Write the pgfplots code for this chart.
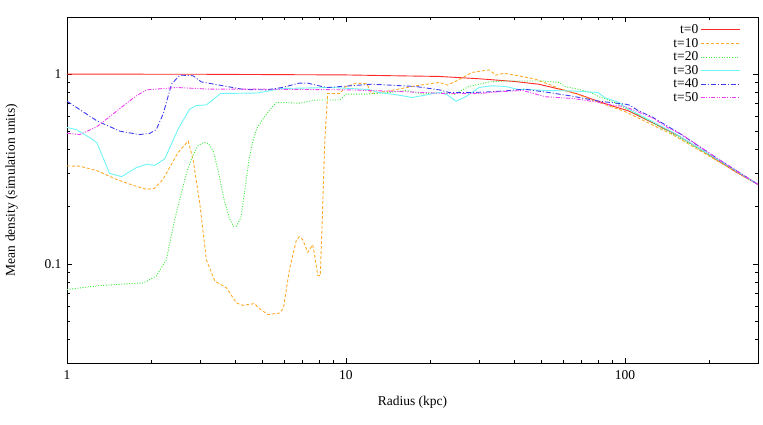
\documentclass[border=0pt]{standalone}
\usepackage{fontspec}
\setmainfont{Liberation Serif}
\usepackage{pgfplots}
\pgfplotsset{compat=1.18}

\definecolor{cR}{RGB}{255,40,40}
\definecolor{cO}{RGB}{255,170,40}
\definecolor{cG}{RGB}{60,235,60}
\definecolor{cC}{RGB}{110,245,245}
\definecolor{cB}{RGB}{60,60,240}
\definecolor{cM}{RGB}{240,60,240}

\begin{document}
\begin{tikzpicture}
\begin{axis}[
    at={(0,0)}, anchor=south west,
    scale only axis,
    width=691pt, height=346pt,
    xmode=log, ymode=log,
    xmin=1, xmax=300, ymin=0.03, ymax=2,
    xtick={1,10,100}, xticklabels={1,10,100},
    ytick={0.1,1}, yticklabels={0.1,1},
    minor xtick={2,3,4,5,6,7,8,9,20,30,40,50,60,70,80,90,200,300},
    minor ytick={0.04,0.05,0.06,0.07,0.08,0.09,0.2,0.3,0.4,0.5,0.6,0.7,0.8,0.9,2},
    tick align=inside,
    major tick length=5pt, minor tick length=3pt,
    every tick/.style={black, line width=0.6pt},
    axis line style={line width=0.8pt},
    /pgf/number format/assume math mode=true,
    font=\fontsize{13.5}{16}\selectfont,
    tick label style={font=\fontsize{13.5}{16}\selectfont},
    xticklabel style={yshift=-4pt},
    yticklabel style={xshift=-2pt},
    xlabel={Radius (kpc)},
    ylabel={Mean density (simulation units)},
    xlabel style={at={(axis description cs:0.5,-0.113)}, anchor=center},
    ylabel style={at={(axis description cs:-0.08,0.5)}, anchor=center, rotate=0},
    legend cell align=right,
    legend plot pos=right,
    legend image code/.code={\draw[#1, line width=1pt] (0pt,0pt) -- (39pt,0pt);},
    legend style={draw=none, fill=none, at={(axis description cs:0.979,0.99)},
        anchor=north east, font=\fontsize{13.5}{16}\selectfont, row sep=-0.9pt},
    every axis plot/.append style={line width=0.9pt},
]
\addplot[color=cR, solid] coordinates {
(1,1.0) (3,0.998) (10,0.99) (15,0.98) (21.6,0.972) (30,0.945) (40,0.915)
(49,0.885) (60,0.825) (68,0.784) (80,0.72) (90,0.68) (103,0.64) (120,0.573)
(140,0.512) (156,0.472) (180,0.415) (217,0.348) (250,0.305) (300,0.262)};
\addlegendentry{t=0}

\addplot[color=cO, dash pattern=on 3pt off 2pt] coordinates {
(1,0.328) (1.11,0.327) (1.28,0.31) (1.5,0.279) (1.73,0.259) (1.93,0.247)
(2.06,0.25) (2.21,0.279) (2.5,0.386) (2.72,0.444) (2.83,0.355) (2.99,0.21)
(3.16,0.105) (3.39,0.081) (3.73,0.0747) (4.05,0.0622) (4.27,0.0604)
(4.7,0.0617) (4.9,0.058) (5.25,0.054) (5.78,0.055) (5.97,0.0585) (6.27,0.093)
(6.63,0.132) (6.8,0.139) (7.0,0.134) (7.3,0.115) (7.6,0.126) (7.7,0.114)
(7.93,0.0867) (8.09,0.0867) (8.2,0.15) (8.4,0.45) (8.6,0.79) (9.5,0.79)
(10,0.86) (10.9,0.896) (11.9,0.89) (12.3,0.79) (14.3,0.816) (17.8,0.868)
(21.6,0.904) (23.1,0.875) (25.4,0.934) (28.3,1.02) (32.6,1.053) (34.5,0.988)
(36.8,1.01) (41.5,0.98) (47.8,0.94) (55,0.868) (58,0.84) (68,0.78)
(80.7,0.71) (100,0.635) (150,0.475) (217,0.345) (300,0.262)};
\addlegendentry{t=10}

\addplot[color=cG, dash pattern=on 1pt off 1.6pt] coordinates {
(1,0.0732) (1.31,0.0768) (1.88,0.0794) (2.09,0.0863) (2.27,0.105)
(2.43,0.17) (2.54,0.22) (2.68,0.30) (2.82,0.37) (2.95,0.42) (3.1,0.437)
(3.22,0.43) (3.35,0.39) (3.5,0.30) (3.65,0.22) (3.83,0.172) (3.95,0.158)
(4.05,0.158) (4.2,0.175) (4.35,0.25) (4.5,0.36) (4.65,0.45) (4.8,0.52)
(5.0,0.57) (5.3,0.64) (5.63,0.71) (6.8,0.703) (7.8,0.73) (9.5,0.73)
(10,0.784) (11.8,0.784) (14.3,0.8) (16.5,0.82) (18.8,0.785) (21.6,0.8)
(24.6,0.784) (27.5,0.86) (32.6,0.91) (37.4,0.92) (44,0.92) (50.6,0.92)
(58,0.904) (61.2,0.86) (74.6,0.806) (80.7,0.76) (90,0.72) (103,0.648)
(150,0.48) (217,0.35) (300,0.262)};
\addlegendentry{t=20}

\addplot[color=cC, solid] coordinates {
(1,0.523) (1.08,0.51) (1.2,0.465) (1.28,0.435) (1.42,0.30) (1.57,0.288)
(1.77,0.321) (1.93,0.335) (2.06,0.33) (2.24,0.357) (2.5,0.512) (2.75,0.653)
(2.91,0.683) (3.16,0.688) (3.55,0.79) (4.8,0.795) (5.9,0.84) (8.9,0.85)
(10.3,0.84) (12,0.83) (13.1,0.80) (15,0.78) (17.3,0.753) (18.8,0.77)
(21.6,0.8) (23,0.78) (24.8,0.72) (26.9,0.76) (30,0.85) (33.4,0.868)
(37.4,0.86) (41.5,0.83) (44,0.83) (52,0.82) (65,0.815) (80,0.80)
(85,0.75) (95,0.71) (103,0.654) (150,0.49) (217,0.352) (300,0.262)};
\addlegendentry{t=30}

\addplot[color=cB, dash pattern=on 5pt off 2pt on 1pt off 2pt] coordinates {
(1,0.72) (1.28,0.567) (1.55,0.50) (1.82,0.48) (1.98,0.487) (2.09,0.51)
(2.21,0.615) (2.37,0.886) (2.54,0.988) (2.83,0.98) (3.03,0.91) (4.3,0.83)
(5.2,0.826) (5.9,0.85) (6.8,0.896) (7.3,0.896) (8.2,0.86) (8.6,0.85)
(12.4,0.885) (17.8,0.86) (21.6,0.826) (23.4,0.8) (28.3,0.80) (32.6,0.806)
(37.4,0.816) (43.6,0.833) (53.3,0.80) (64.8,0.765) (80.7,0.72)
(100.5,0.694) (104,0.686) (112,0.64) (125,0.595) (156,0.49) (217,0.355)
(300,0.262)};
\addlegendentry{t=40}

\addplot[color=cM, dash pattern=on 4pt off 1.5pt on 1pt off 1.5pt on 1pt off 1.5pt] coordinates {
(1,0.488) (1.11,0.48) (1.28,0.528) (1.55,0.66) (1.77,0.768) (1.93,0.826)
(2.47,0.85) (3.25,0.833) (4.9,0.833) (10.3,0.826) (15.5,0.81) (22.8,0.79)
(30,0.79) (34.5,0.806) (43,0.82) (51.9,0.76) (64.8,0.744) (80.7,0.71)
(90,0.686) (100,0.675) (125,0.59) (143,0.52) (160,0.48) (217,0.355)
(300,0.262)};
\addlegendentry{t=50}
\end{axis}
\path (-67pt,-61pt) rectangle (696pt,363pt);
\end{tikzpicture}
\end{document}
